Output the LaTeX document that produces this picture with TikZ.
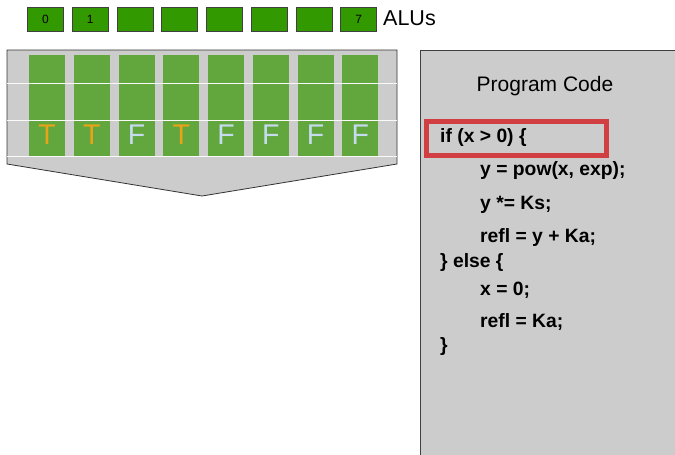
\documentclass[tikz,border=0pt]{standalone}
\usepackage{fontspec}
\setmainfont{Liberation Sans}
\definecolor{alugreen}{HTML}{339900}
\definecolor{lanegreen}{HTML}{62A73E}
\definecolor{panelgray}{HTML}{CCCCCD}
\definecolor{truecol}{HTML}{E8A317}
\definecolor{falsecol}{HTML}{C6DBF0}
\definecolor{hilite}{HTML}{D13F42}
\tikzset{
  alubox/.style={draw=black!75,fill=alugreen,line width=0.9pt,minimum width=36pt,minimum height=24pt,inner sep=0pt,font=\fontsize{12}{12}\selectfont},
  codeline/.style={anchor=west,inner sep=0pt,font=\bfseries\fontsize{19.3}{21}\selectfont},
}
\begin{document}
\begin{tikzpicture}[x=1pt,y=-1pt]
        \useasboundingbox (0,0) rectangle (675,455);

        % 上方:ALU 一排
        \foreach \i/\lab in {0/0,1/1,2/,3/,4/,5/,6/,7/7}
            \node[alubox] (alu\i) at ({45.5+44.75*\i},19.5) {\lab};
        \node[anchor=west,inner sep=0pt,font=\fontsize{21.5}{21.5}\selectfont] (alus) at (383,18) {ALUs};

        % 左图:灰色箭头形底板
        \draw[fill=panelgray,draw=black!80,line width=0.8pt]
            (7,50) -- (397,50) -- (397,164) -- (202,196) -- (7,164) -- cycle;
        \foreach \i in {0,...,7}
            \fill[lanegreen] ({29+44.75*\i},55) rectangle ++(36,101);
        \foreach \y in {83,120,156}
            \draw[white!90!panelgray,line width=0.6pt] (7,\y) -- (397,\y);

        % 各通道的条件结果
        \foreach \i/\v/\c in {0/T/truecol,1/T/truecol,2/F/falsecol,3/T/truecol,4/F/falsecol,5/F/falsecol,6/F/falsecol,7/F/falsecol}
            \node[text=\c,inner sep=0pt,font=\fontsize{28.5}{28.5}\selectfont] (res\i) at ({47+44.75*\i},134.5) {\v};

        % 右图:程序代码
        \fill[panelgray] (420,50) rectangle (676,456);
        \draw[black!75,line width=1pt] (420,456) -- (420,50) -- (676,50);
        \node[font=\fontsize{21}{21}\selectfont] (title) at (545,86) {Program Code};
        \draw[hilite,line width=4.5pt] (426.5,121.5) rectangle (606.5,155.5);

        \node[codeline] (c1) at (440,138) {if (x > 0) \{};
        \node[codeline] (c2) at (480,171) {y = pow(x, exp);};
        \node[codeline] (c3) at (480,205) {y *= Ks;};
        \node[codeline] (c4) at (480,238) {refl = y + Ka;};
        \node[codeline] (c5) at (440,263) {\} else \{};
        \node[codeline] (c6) at (480,290) {x = 0;};
        \node[codeline] (c7) at (480,322) {refl = Ka;};
        \node[codeline] (c8) at (440,347) {\}};
    \end{tikzpicture}
\end{document}
